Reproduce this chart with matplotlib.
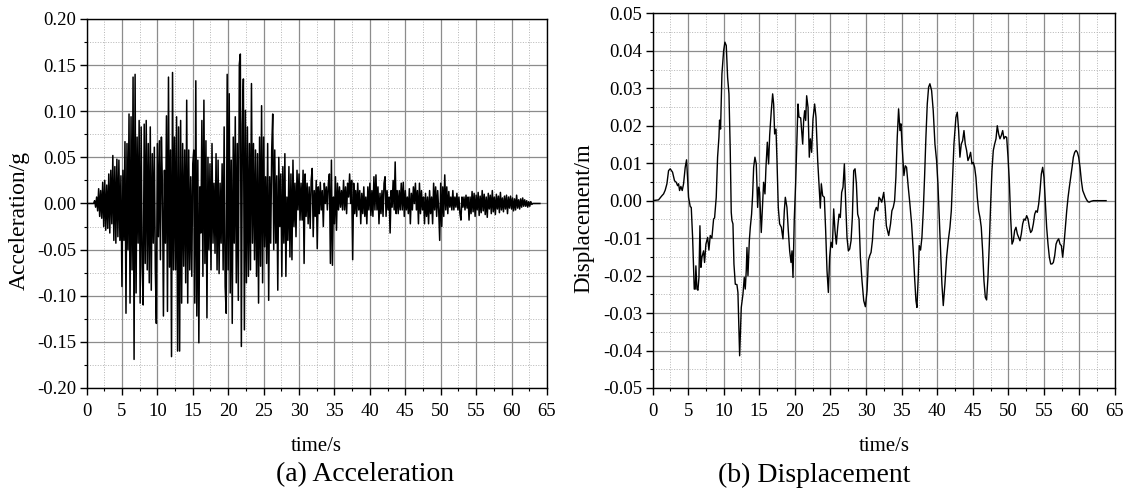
import matplotlib
matplotlib.use("Agg")
import matplotlib.pyplot as plt
import numpy as np
from matplotlib.ticker import MultipleLocator, FuncFormatter

plt.rcParams['font.family'] = ['Liberation Serif', 'DejaVu Serif']

# ---- acceleration record (g), 7 samples per second ----
acc_dt = 1.0 / 7.0
acc_0_27 = [
    0, 0, 0, 0, 0, 0, 0,
    0, 0.003, -0.004, 0.007, -0.008, 0.016, -0.014,
    0.014, -0.016, 0.023, -0.025, 0.025, -0.029, 0.020,
    -0.027, 0.032, -0.032, 0.036, -0.022, 0.052, -0.040,
    0.040, -0.043, 0.048, -0.036, 0.047, -0.040, 0.030,
    -0.090, 0.036, -0.040, 0.067, -0.119, 0.065, -0.050,
    0.097, -0.108, 0.094, -0.072, 0.137, -0.169, 0.140,
    -0.097, 0.072, -0.043, 0.090, -0.108, 0.083, -0.068,
    -0.110, 0.086, -0.065, 0.090, -0.072, 0.065, -0.086,
    0.083, -0.094, 0.054, -0.043, 0.061, -0.072, -0.130,
    0.065, -0.036, 0.068, -0.061, 0.072, 0.020, -0.122,
    0.036, -0.043, 0.095, -0.117, 0.137, -0.069, 0.058,
    -0.166, 0.142, -0.072, 0.072, -0.072, 0.094, -0.160,
    0.083, -0.160, 0.090, -0.108, 0.065, -0.068, 0.058,
    -0.086, 0.112, -0.108, 0.058, -0.072, 0.029, -0.079,
    0.043, 0.058, -0.108, 0.133, -0.122, 0.047, -0.151,
    0.018, -0.032, 0.090, -0.079, 0.112, -0.065, 0.068,
    -0.124, 0.050, -0.050, 0.043, -0.072, 0.065, -0.043,
    0.022, -0.054, 0.054, -0.072, 0.047, -0.076, 0.022,
    -0.043, 0.043, -0.072, 0.083, -0.090, -0.119, 0.140,
    -0.072, 0.119, -0.097, 0.047, -0.130, 0.072, -0.043,
    0.094, -0.086, 0.065, -0.105, 0.151, 0.162, -0.155,
    0.086, 0.135, -0.137, 0.101, -0.086, 0.083, -0.079,
    0.065, -0.072, 0.130, -0.043, 0.065, -0.061, 0.058,
    -0.079, 0.054, -0.108, 0.072, -0.068, 0.106, -0.086,
    0.072, -0.047, 0.029, -0.065, 0.065, -0.105, 0.029,
    -0.043, 0.058, 0.097, -0.050, 0.058, -0.043, 0.030,
]
acc_27_54 = [
    -0.094, 0.050, -0.025, 0.032, -0.079, 0.040, -0.043,
    0.054, -0.079, 0.007, -0.040, 0.040, -0.058, 0.032,
    -0.061, 0.047, -0.025, 0.022, -0.036, 0.036, -0.007,
    0.032, -0.018, 0.022, -0.018, 0.036, -0.065, 0.032,
    -0.014, 0.022, -0.022, 0.018, -0.027, 0.025, 0.038,
    -0.036, 0.014, -0.014, 0.025, -0.049, 0.018, -0.011,
    0.023, -0.007, 0.014, -0.025, 0.022, 0.000, 0.018,
    -0.007, 0.022, 0.032, -0.065, 0.047, -0.067, 0.007,
    -0.022, 0.029, -0.029, 0.022, -0.007, 0.018, -0.004,
    0.014, -0.007, 0.025, -0.007, 0.018, -0.011, 0.022,
    0.007, 0.032, 0.000, 0.025, -0.061, 0.022, -0.011,
    0.014, -0.014, 0.022, -0.007, 0.014, -0.022, 0.011,
    -0.011, 0.018, -0.014, 0.007, -0.022, 0.018, -0.007,
    0.022, -0.013, 0.014, -0.014, 0.029, -0.007, 0.031,
    -0.007, 0.018, -0.022, 0.011, -0.011, 0.014, -0.014,
    0.022, 0.029, -0.014, 0.014, -0.007, 0.007, -0.032,
    0.014, -0.004, 0.025, -0.007, 0.045, -0.011, 0.014,
    -0.011, 0.014, -0.007, 0.022, -0.007, 0.023, -0.014,
    0.014, -0.007, 0.007, -0.011, 0.016, -0.022, 0.011,
    -0.007, 0.018, 0.000, 0.022, -0.007, 0.014, -0.022,
    0.022, -0.011, 0.014, -0.007, 0.007, -0.022, 0.011,
    -0.014, 0.007, -0.022, 0.014, -0.011, 0.007, -0.022,
    0.022, -0.007, 0.018, -0.014, 0.014, -0.007, -0.040,
    0.022, -0.025, 0.018, -0.014, 0.031, -0.007, 0.018,
    -0.011, 0.013, -0.004, 0.007, -0.007, 0.014, -0.007,
    0.007, -0.004, 0.011, -0.007, 0.007, -0.011, -0.018,
    0.007, -0.004, 0.007, -0.007, 0.009, -0.005, 0.007,
]
acc_54_64 = [
    -0.018, 0.007, -0.011, 0.013, -0.009, 0.011, -0.014,
    0.009, -0.007, 0.012, -0.013, 0.008, -0.010, 0.014,
    -0.008, 0.010, -0.012, 0.007, -0.015, 0.011, -0.006,
    0.009, -0.011, 0.014, -0.009, 0.007, -0.012, 0.010,
    -0.006, 0.008, -0.010, 0.012, -0.007, 0.006, -0.009,
    0.008, -0.006, 0.009, -0.011, 0.007, -0.005, 0.008,
    -0.006, 0.006, -0.008, 0.005, -0.007, 0.009, -0.005,
    0.004, -0.006, 0.005, -0.004, 0.006, -0.003, 0.004,
    -0.003, 0.003, -0.004, 0.002, -0.003, 0.002, -0.001,
    0, 0, 0, 0, 0, 0, 0,
    0,
]
acc_g = np.array(acc_0_27 + acc_27_54 + acc_54_64)
acc_t = np.arange(len(acc_g)) * acc_dt

# ---- displacement record (m) ----
disp_t = [
    0.00, 0.84, 1.31, 1.55, 1.78, 2.02, 2.25, 2.48, 2.81, 3.09, 3.33, 3.52, 3.66, 3.80,
    3.98, 4.17, 4.36, 4.59, 4.78, 4.92, 5.06, 5.30, 5.44, 5.63, 5.77, 5.86, 6.00, 6.09,
    6.24, 6.38, 6.52, 6.66, 6.80, 6.94, 7.17, 7.31, 7.50, 7.74, 7.92, 8.11, 8.34, 8.58,
    8.72, 8.95, 9.14, 9.33, 9.42, 9.56, 9.75, 9.99, 10.17, 10.36, 10.55, 10.74, 10.92,
    11.06, 11.16, 11.30, 11.44, 11.63, 11.86, 12.00, 12.24, 12.47, 12.71, 12.89, 13.03,
    13.17, 13.27, 13.41, 13.60, 13.74, 13.92, 14.06, 14.21, 14.39, 14.58, 14.77, 14.91,
    15.05, 15.28, 15.42, 15.61, 15.80, 15.94, 16.13, 16.31, 16.46, 16.69, 16.88, 17.02,
    17.16, 17.35, 17.49, 17.67, 17.86, 18.10, 18.33, 18.52, 18.66, 18.89, 19.08, 19.27,
    19.46, 19.60, 19.74, 19.92, 20.11, 20.30, 20.44, 20.58, 20.82, 21.10, 21.24, 21.38,
    21.52, 21.66, 21.85, 22.03, 22.18, 22.36, 22.55, 22.78, 22.97, 23.21, 23.39, 23.58,
    23.72, 23.91, 24.14, 24.33, 24.52, 24.71, 24.89, 25.08, 25.27, 25.46, 25.64, 25.83,
    26.02, 26.21, 26.39, 26.58, 26.77, 26.96, 27.15, 27.33, 27.52, 27.71, 27.90, 28.08,
    28.27, 28.46, 28.65, 28.83, 29.02, 29.21, 29.44, 29.68, 29.91, 30.15, 30.33, 30.52,
    30.71, 30.90, 31.08, 31.27, 31.46, 31.65, 31.83, 32.02, 32.21, 32.49, 32.68, 32.86,
    33.19, 33.45, 33.64, 33.83, 34.02, 34.20, 34.39, 34.58, 34.77, 34.91, 35.09, 35.33,
    35.52, 35.70, 35.94, 36.17, 36.41, 36.64, 36.83, 37.02, 37.16, 37.34, 37.48, 37.67,
    37.86, 38.05, 38.23, 38.42, 38.61, 38.80, 38.98, 39.22, 39.45, 39.69, 39.92, 40.11,
    40.30, 40.49, 40.67, 40.86, 41.09, 41.33, 41.56, 41.80, 41.99, 42.17, 42.36, 42.64,
    42.83, 43.02, 43.20, 43.39, 43.58, 43.77, 43.95, 44.14, 44.33, 44.52, 44.70, 44.89,
    45.08, 45.27, 45.45, 45.64, 45.83, 46.02, 46.20, 46.39, 46.58, 46.77, 46.95, 47.14,
    47.33, 47.52, 47.70, 47.89, 48.08, 48.27, 48.45, 48.64, 48.83, 49.02, 49.21, 49.39,
    49.58, 49.77, 49.96, 50.14, 50.33, 50.52, 50.71, 50.89, 51.08, 51.27, 51.46, 51.64,
    51.83, 52.02, 52.21, 52.39, 52.58, 52.77, 52.96, 53.14, 53.33, 53.52, 53.71, 53.89,
    54.08, 54.27, 54.46, 54.64, 54.83, 55.02, 55.21, 55.39, 55.58, 55.77, 55.96, 56.14,
    56.33, 56.52, 56.71, 56.89, 57.08, 57.27, 57.46, 57.64, 57.83, 58.02, 58.21, 58.40,
    58.58, 58.77, 58.96, 59.14, 59.33, 59.52, 59.71, 59.89, 60.08, 60.27, 60.46, 60.64,
    60.83, 61.02, 61.21, 61.39, 61.58, 61.96, 63.74,
]
disp_m = [
    0.0, 0.0002, 0.0013, 0.0018, 0.0028, 0.0045, 0.0080, 0.0085, 0.0076, 0.0053, 0.0049,
    0.0040, 0.0045, 0.0027, 0.0038, 0.0027, 0.0045, 0.0089, 0.0109, 0.0062, 0.0009,
    -0.0016, -0.0018, -0.0098, -0.0187, -0.0236, -0.0236, -0.0174, -0.0236, -0.0239,
    -0.0205, -0.0067, -0.0178, -0.0151, -0.0134, -0.0165, -0.0116, -0.0098, -0.0132,
    -0.0093, -0.0100, -0.0049, -0.0046, 0.0009, 0.0116, 0.0169, 0.0215, 0.0191, 0.0338,
    0.0400, 0.0423, 0.0414, 0.0329, 0.0285, 0.0134, -0.0031, -0.0053, -0.0062, -0.0169,
    -0.0223, -0.0224, -0.0245, -0.0414, -0.0285, -0.0249, -0.0205, -0.0236, -0.0187,
    -0.0125, -0.0200, -0.0107, -0.0071, -0.0036, 0.0013, 0.0089, 0.0116, 0.0098, -0.0018,
    0.0036, 0.0022, -0.0085, -0.0027, 0.0049, 0.0018, 0.0089, 0.0156, 0.0098, 0.0174,
    0.0240, 0.0285, 0.0258, 0.0178, 0.0191, 0.0107, -0.0018, -0.0062, -0.0071, -0.0102,
    -0.0027, 0.0009, -0.0018, -0.0080, -0.0134, -0.0165, -0.0134, -0.0205, -0.0049,
    0.0045, 0.0169, 0.0258, 0.0223, 0.0221, 0.0151, 0.0214, 0.0240, 0.0214, 0.0280,
    0.0249, 0.0116, 0.0165, 0.0129, 0.0218, 0.0258, 0.0223, 0.0107, 0.0045, -0.0020,
    0.0045, 0.0013, 0.0009, -0.0080, -0.0187, -0.0245, -0.0151, -0.0111, -0.0125,
    -0.0022, -0.0080, -0.0116, -0.0071, -0.0036, -0.0045, 0.0022, 0.0036, 0.0098,
    -0.0009, -0.0098, -0.0134, -0.0129, -0.0107, -0.0045, 0.0080, 0.0085, 0.0045,
    -0.0036, -0.0049, -0.0151, -0.0214, -0.0267, -0.0283, -0.0240, -0.0160, -0.0147,
    -0.0138, -0.0107, -0.0053, -0.0027, -0.0018, -0.0027, 0.0009, 0.0004, -0.0004,
    0.0022, -0.0013, -0.0067, -0.0093, -0.0062, -0.0027, -0.0018, 0.0, 0.0062, 0.0169,
    0.0245, 0.0187, 0.0205, 0.0142, 0.0067, 0.0093, 0.0089, 0.0036, -0.0009, -0.0062,
    -0.0134, -0.0205, -0.0267, -0.0285, -0.0205, -0.0120, -0.0132, -0.0098, -0.0027,
    0.0062, 0.0169, 0.0258, 0.0303, 0.0312, 0.0294, 0.0240, 0.0151, 0.0107, 0.0045,
    -0.0045, -0.0142, -0.0223, -0.0280, -0.0223, -0.0151, -0.0107, -0.0071, -0.0027,
    0.0062, 0.0151, 0.0223, 0.0236, 0.0187, 0.0116, 0.0151, 0.0160, 0.0187, 0.0151,
    0.0134, 0.0107, 0.0116, 0.0129, 0.0098, 0.0102, 0.0089, 0.0062, 0.0009, -0.0027,
    -0.0045, -0.0071, -0.0134, -0.0214, -0.0258, -0.0265, -0.0205, -0.0116, -0.0009,
    0.0080, 0.0134, 0.0151, 0.0165, 0.0200, 0.0178, 0.0165, 0.0174, 0.0187, 0.0165,
    0.0171, 0.0169, 0.0116, 0.0053, -0.0045, -0.0116, -0.0107, -0.0080, -0.0071,
    -0.0089, -0.0098, -0.0107, -0.0089, -0.0062, -0.0049, -0.0052, -0.0040, -0.0049,
    -0.0071, -0.0085, -0.0080, -0.0062, -0.0036, -0.0027, -0.0031, -0.0009, 0.0027,
    0.0071, 0.0089, 0.0062, -0.0009, -0.0071, -0.0116, -0.0151, -0.0169, -0.0169,
    -0.0165, -0.0147, -0.0116, -0.0107, -0.0102, -0.0116, -0.0120, -0.0151, -0.0116,
    -0.0071, -0.0027, 0.0009, 0.0036, 0.0062, 0.0089, 0.0116, 0.0129, 0.0134, 0.0129,
    0.0116, 0.0089, 0.0053, 0.0027, 0.0018, 0.0009, 0.0002, -0.0003, -0.0004, -0.0002,
    0.0, 0.0,
]

fig = plt.figure(figsize=(11.28, 4.93), dpi=100)
ax1 = fig.add_axes([0.0767, 0.2130, 0.4082, 0.7485])
ax2 = fig.add_axes([0.5785, 0.2130, 0.4100, 0.7600])

fmt = FuncFormatter(lambda v, p: f"{v:.2f}" if abs(v) > 1e-9 else "0.00")


def style(ax, ymaj, ymin_, ylim):
    ax.set_xlim(0, 65)
    ax.set_ylim(*ylim)
    ax.xaxis.set_major_locator(MultipleLocator(5))
    ax.xaxis.set_minor_locator(MultipleLocator(2.5))
    ax.yaxis.set_major_locator(MultipleLocator(ymaj))
    ax.yaxis.set_minor_locator(MultipleLocator(ymin_))
    ax.yaxis.set_major_formatter(fmt)
    ax.grid(True, which='major', color='#8c8c8c', lw=0.9, ls='-')
    ax.grid(True, which='minor', color='#b5b5b5', lw=0.7, ls=':')
    ax.set_axisbelow(True)
    ax.tick_params(which='major', direction='out', length=5, width=1, labelsize=13.5)
    ax.tick_params(which='minor', direction='out', length=2.5, width=0.8)
    ax.tick_params(axis='x', pad=6)
    ax.tick_params(axis='y', pad=2.5)
    for s in ax.spines.values():
        s.set_linewidth(1.0)
        s.set_color('black')


ax1.plot(acc_t, acc_g, color='black', lw=1.1)
style(ax1, 0.05, 0.025, (-0.20, 0.20))
ax1.set_xlabel('time/s', fontsize=15)
ax1.set_ylabel('Acceleration/g', fontsize=17)
ax1.xaxis.set_label_coords(0.5, -0.133)
ax1.yaxis.set_label_coords(-0.1227, 0.453)

ax2.plot(disp_t, disp_m, color='black', lw=1.0)
style(ax2, 0.01, 0.005, (-0.05, 0.05))
ax2.set_xlabel('time/s', fontsize=15)
ax2.set_ylabel('Displacement/m', fontsize=16.5)
ax2.xaxis.set_label_coords(0.5, -0.131)
ax2.yaxis.set_label_coords(-0.1265, 0.454)

fig.text(0.3236, 0.0365, '(a) Acceleration', fontsize=20, ha='center', va='center')
fig.text(0.7216, 0.0365, '(b) Displacement', fontsize=20, ha='center', va='center')

fig.savefig('out.png', dpi=100)
